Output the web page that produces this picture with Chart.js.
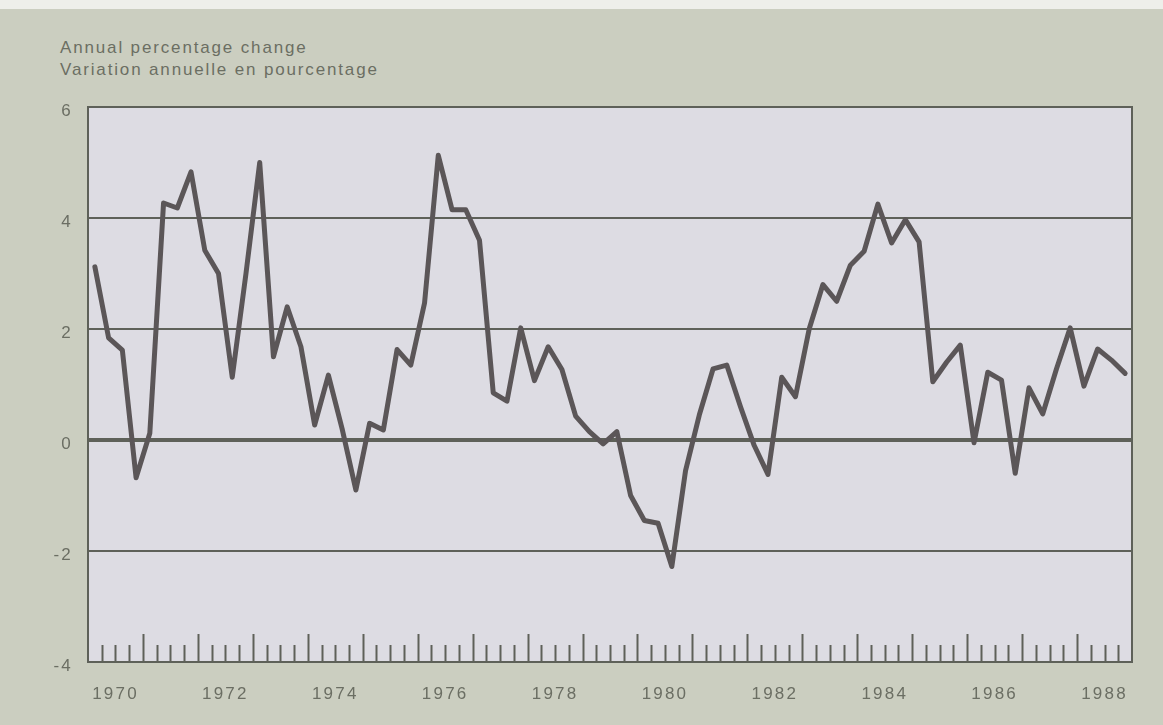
<!DOCTYPE html>
<html>
<head>
<meta charset="utf-8">
<script src="https://cdn.jsdelivr.net/npm/chart.js@4.4.1/dist/chart.umd.min.js"></script>
<style>
  html, body { margin:0; padding:0; }
  body { background:#cbcec0; }
  #wrap { position:relative; width:1163px; height:725px; overflow:hidden; background:#cbcec0; }
  #wrap:before { content:""; position:absolute; left:0; top:0; width:100%; height:9px; background:#eeefea; }
  .ttl { position:absolute; left:60px; font:17px "Liberation Sans", Arial, sans-serif; letter-spacing:1.85px; color:#6b6e63; white-space:nowrap; }
  canvas { position:absolute; left:0; top:0; }
</style>
</head>
<body>
<div id="wrap">
  <div class="ttl" style="top:38px">Annual percentage change</div>
  <div class="ttl" style="top:60px">Variation annuelle en pourcentage</div>
  <canvas id="c" width="1163" height="725"></canvas>
</div>
<script>
// quarterly observations, Q1..Q4 of each year
const years = [1970,1971,1972,1973,1974,1975,1976,1977,1978,1979,1980,1981,1982,1983,1984,1985,1986,1987,1988];
const values = [
  3.12, 1.84, 1.62, -0.68,   // 1970
  0.12, 4.27, 4.18, 4.83,    // 1971
  3.42, 3.0, 1.13, 3.0,      // 1972
  5.0, 1.5, 2.4, 1.68,       // 1973
  0.27, 1.17, 0.2, -0.9,     // 1974
  0.3, 0.18, 1.63, 1.35,     // 1975
  2.47, 5.13, 4.15, 4.15,    // 1976
  3.6, 0.85, 0.7, 2.02,      // 1977
  1.07, 1.68, 1.27, 0.43,    // 1978
  0.15, -0.07, 0.15, -1.0,   // 1979
  -1.45, -1.5, -2.28, -0.55, // 1980
  0.45, 1.28, 1.35, 0.6,     // 1981
  -0.1, -0.62, 1.13, 0.78,   // 1982
  2.0, 2.8, 2.5, 3.15,       // 1983
  3.4, 4.25, 3.55, 3.97,     // 1984
  3.57, 1.05, 1.4, 1.71,     // 1985
  -0.05, 1.22, 1.08, -0.6,   // 1986
  0.94, 0.47, 1.28, 2.02,    // 1987
  0.97, 1.64, 1.44, 1.2      // 1988
];
const yearLabels = ["1970","1972","1974","1976","1978","1980","1982","1984","1986","1988"];
const yTicks = [-4, -2, 0, 2, 4, 6];

const INK = "#5e6159", TXT = "#6b6e63";
const nQ = years.length * 4;

// plot background + frame + quarter tick marks along the bottom
const frame = {
  id: "frame",
  beforeDraw(chart){
    const {ctx, chartArea:a} = chart;
    ctx.letterSpacing = "2.2px";
    ctx.save();
    ctx.fillStyle = "#dddce3";
    ctx.fillRect(a.left, a.top, a.right - a.left, a.bottom - a.top);
    ctx.restore();
  },
  afterDatasetsDraw(chart){
    const {ctx, chartArea:a, scales:{x}} = chart;
    ctx.save();
    ctx.strokeStyle = INK;
    ctx.lineWidth = 2;
    for (let q = 1; q < nQ; q++){
      const px = Math.round(x.getPixelForValue(q)) + 0.5;
      const len = q % 4 === 0 ? 28 : 17;
      ctx.beginPath();
      ctx.moveTo(px, a.bottom);
      ctx.lineTo(px, a.bottom - len);
      ctx.stroke();
    }
    ctx.strokeRect(a.left, a.top, a.right - a.left, a.bottom - a.top);
    ctx.restore();
  }
};

new Chart(document.getElementById("c"), {
  type: "line",
  data: {
    datasets: [{
      data: values.map((v, i) => ({ x: i + 0.5, y: v })),
      borderColor: "#5b5658",
      borderWidth: 5,
      borderJoinStyle: "round",
      borderCapStyle: "round",
      pointRadius: 0,
      tension: 0,
      fill: false
    }]
  },
  options: {
    responsive: false,
    animation: false,
    layout: { padding: { top: 107, right: 31, left: 0, bottom: 0 } },
    plugins: { legend: { display:false }, tooltip: { enabled:false } },
    scales: {
      x: {
        type: "linear", min: 0, max: nQ,
        grid: { display:false, drawTicks:false },
        border: { display:false },
        afterBuildTicks: (s) => { s.ticks = yearLabels.map((_, k) => ({ value: 2 + 8 * k })); },
        afterFit: (s) => { s.height = 63; },
        ticks: {
          autoSkip: false, maxRotation: 0, padding: 22, color: TXT,
          font: { family: "Liberation Sans, Arial, sans-serif", size: 17 },
          callback: (v) => yearLabels[Math.round((v - 2) / 8)]
        }
      },
      y: {
        min: -4, max: 6,
        afterBuildTicks: (s) => { s.ticks = yTicks.map(v => ({ value: v })); },
        afterFit: (s) => { s.width = 88; },
        grid: {
          color: INK, drawTicks: false,
          lineWidth: (c) => c.tick && c.tick.value === 0 ? 4 : 2
        },
        border: { display:false },
        ticks: {
          padding: 15, labelOffset: 4, color: TXT,
          font: { family: "Liberation Sans, Arial, sans-serif", size: 17 }
        }
      }
    }
  },
  plugins: [frame]
});
</script>
</body>
</html>
